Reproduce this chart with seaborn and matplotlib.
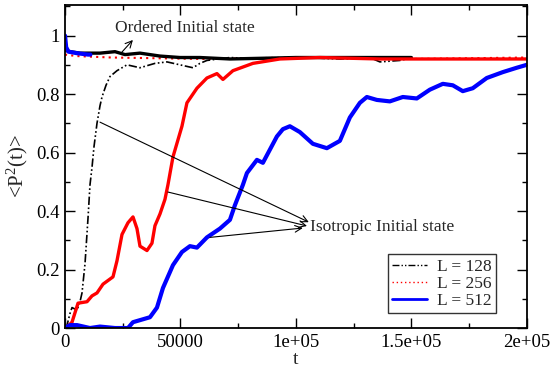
import matplotlib
matplotlib.use("Agg")
import matplotlib.pyplot as plt
import seaborn as sns
import numpy as np
from matplotlib.lines import Line2D
from matplotlib.ticker import MultipleLocator, FixedLocator, FixedFormatter

sns.set_theme(style="white")
plt.rcParams['font.family'] = ['Liberation Serif', 'DejaVu Serif']
plt.rcParams['mathtext.fontset'] = 'custom'
plt.rcParams['mathtext.rm'] = 'Liberation Serif'
plt.rcParams['mathtext.default'] = 'regular'

# ---- data ----
t_black_iso = [0, 870, 2160, 3030, 4330, 5190, 6490, 7360, 8660, 9960, 10820, 11700, 12550,
               13850, 15150, 16020, 17750, 19480, 22510, 26840, 32470, 38960, 44160, 49780,
               55410, 58440, 61470, 71430, 84420, 101730, 119050, 132000, 136400, 145000, 150650]
p_black_iso = [0.0, 0.01, 0.05, 0.07, 0.065, 0.06, 0.09, 0.12, 0.22, 0.376, 0.49, 0.55, 0.62,
               0.70, 0.76, 0.79, 0.83, 0.86, 0.88, 0.90, 0.89, 0.905, 0.91, 0.90,
               0.89, 0.905, 0.915, 0.925, 0.92, 0.925, 0.92, 0.925, 0.91, 0.915, 0.925]

t_black_ord = [0, 2160, 6490, 15150, 21650, 26000, 32470, 41100, 49780, 58440, 71430, 100000, 150000]
p_black_ord = [0.95, 0.945, 0.94, 0.94, 0.945, 0.935, 0.94, 0.93, 0.925, 0.925, 0.92, 0.925, 0.925]

t_red_iso = [430, 3030, 5630, 9520, 11690, 13850, 16450, 20780, 22510, 24680, 27270, 29440,
             31170, 32470, 35500, 37660, 38960, 41130, 43290, 44590, 46750, 50650, 52810,
             57140, 61470, 65800, 68400, 72730, 81390, 93080, 110390, 136360, 166670, 200000]
p_red_iso = [0.0, 0.02, 0.085, 0.09, 0.11, 0.12, 0.15, 0.175, 0.23, 0.32, 0.36, 0.38,
             0.34, 0.28, 0.265, 0.29, 0.35, 0.39, 0.44, 0.49, 0.585, 0.69, 0.77,
             0.82, 0.855, 0.87, 0.85, 0.88, 0.905, 0.92, 0.925, 0.92, 0.92, 0.92]

t_red_ord = [0, 5000, 20000, 60000, 100000, 150000, 200000]
p_red_ord = [0.935, 0.93, 0.925, 0.92, 0.925, 0.92, 0.925]

t_blue_iso = [0, 2160, 5190, 10820, 15150, 21650, 27270, 29440, 36800, 39830, 42420, 46750,
              50650, 54110, 57140, 61470, 67100, 71430, 73590, 77060, 78790, 83120, 85710,
              88740, 91770, 94370, 97400, 101730, 107360, 113420, 119050, 123380, 127710,
              130740, 135060, 140690, 146320, 152380, 158010, 163640, 167970, 172290,
              176620, 182680, 189610, 195670, 200000]
p_blue_iso = [0.0, 0.01, 0.01, 0.0, 0.005, 0.0, 0.0, 0.02, 0.037, 0.07, 0.137, 0.215,
              0.26, 0.28, 0.275, 0.31, 0.34, 0.37, 0.42, 0.49, 0.53, 0.575, 0.565,
              0.61, 0.655, 0.68, 0.69, 0.67, 0.63, 0.615, 0.64, 0.72, 0.77,
              0.79, 0.78, 0.775, 0.79, 0.785, 0.815, 0.835, 0.83, 0.81,
              0.82, 0.855, 0.875, 0.89, 0.90]

t_blue_ord = [0, 500, 1500, 5000, 10000, 11000]
p_blue_ord = [1.0, 0.96, 0.945, 0.94, 0.935, 0.935]

legend_labels = ["L = 128", "L = 256", "L = 512"]
xtick_vals = [0, 50000, 100000, 150000, 200000]
xtick_labels = ["0", "50000", "1e+05", "1.5e+05", "2e+05"]
ytick_vals = [0, 0.2, 0.4, 0.6, 0.8, 1.0]
ytick_labels = ["0", "0.2", "0.4", "0.6", "0.8", "1"]

fig = plt.figure(figsize=(5.51, 3.69), dpi=100)
ax = fig.add_axes([0.118, 0.111, 0.838, 0.875])

kw = dict(ax=ax, sort=False, estimator=None, legend=False)
sns.lineplot(x=t_red_ord, y=p_red_ord, color="red", lw=1.5, linestyle=(0, (1, 2)), **kw)
sns.lineplot(x=t_black_ord, y=p_black_ord, color="black", lw=2.4, **kw)
sns.lineplot(x=t_black_iso, y=p_black_iso, color="black", lw=1.2, linestyle=(0, (5, 1.5, 1, 1.5, 1, 1.5)), **kw)
sns.lineplot(x=t_red_iso, y=p_red_iso, color="red", lw=2.4, **kw)
sns.lineplot(x=t_blue_iso, y=p_blue_iso, color="blue", lw=3.0, **kw)
sns.lineplot(x=t_blue_ord, y=p_blue_ord, color="blue", lw=3.0, **kw)

ax.set_xlim(0, 200000)
ax.set_ylim(0, 1.104)

ax.xaxis.set_major_locator(FixedLocator(xtick_vals))
ax.xaxis.set_major_formatter(FixedFormatter(xtick_labels))
ax.xaxis.set_minor_locator(MultipleLocator(25000))
ax.yaxis.set_major_locator(FixedLocator(ytick_vals))
ax.yaxis.set_major_formatter(FixedFormatter(ytick_labels))
ax.yaxis.set_minor_locator(MultipleLocator(0.1))
ax.tick_params(which="both", direction="in", top=True, right=True, bottom=True, left=True,
               colors="black", labelsize=13.5, pad=4)
ax.tick_params(which="major", length=7, width=1)
ax.tick_params(which="minor", length=3.5, width=1)
for s in ax.spines.values():
    s.set_color("black")
    s.set_linewidth(1.3)

ax.set_xlabel("t", fontsize=14, labelpad=0)
ax.set_ylabel("<P$^{2}$(t)>", fontsize=15, labelpad=4)

aprops = dict(arrowstyle="->", color="black", lw=0.8, shrinkA=0, shrinkB=0)
ax.annotate("", xy=(29400, 0.985), xytext=(24700, 0.944), arrowprops=aprops)
ax.text(51950, 1.026, "Ordered Initial state", fontsize=12.5, ha="center", va="center")

ax.annotate("", xy=(105600, 0.362), xytext=(15150, 0.704), arrowprops=aprops)
ax.annotate("", xy=(104800, 0.349), xytext=(44600, 0.465), arrowprops=aprops)
ax.annotate("", xy=(103000, 0.342), xytext=(62800, 0.31), arrowprops=aprops)
ax.text(106300, 0.345, "Isotropic Initial state", fontsize=12.5, ha="left", va="center")

handles = [
    Line2D([], [], color="black", lw=1, linestyle=(0, (5, 1.5, 1, 1.5, 1, 1.5))),
    Line2D([], [], color="red", lw=1, linestyle=(0, (1, 2))),
    Line2D([], [], color="blue", lw=2),
]
leg = ax.legend(handles, legend_labels, loc="lower left", bbox_to_anchor=(0.699, 0.046),
                fontsize=12.5, frameon=True, fancybox=False, handlelength=2.0,
                borderpad=0.25, labelspacing=0.05, handletextpad=0.6, borderaxespad=0)
leg.get_frame().set_edgecolor("black")
leg.get_frame().set_linewidth(1.0)

fig.savefig("out.png", dpi=100)
